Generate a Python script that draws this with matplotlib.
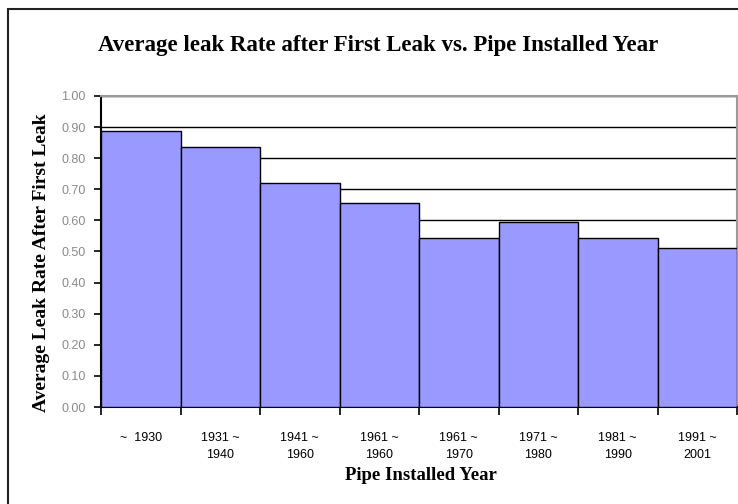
import matplotlib
matplotlib.use("Agg")
import matplotlib.pyplot as plt
from matplotlib.patches import Rectangle
from matplotlib.ticker import MultipleLocator, FixedLocator, NullFormatter
import numpy as np

periods = ["~  1930", "1931 ~\n1940", "1941 ~\n1960", "1961 ~\n1960",
           "1961 ~\n1970", "1971 ~\n1980", "1981 ~\n1990", "1991 ~\n2001"]
leak_rate = [0.887, 0.837, 0.720, 0.657, 0.542, 0.596, 0.542, 0.510]

W, H = 738, 504
fig = plt.figure(figsize=(W / 100, H / 100), dpi=100)
fig.patch.set_facecolor("white")

# outer chart border (runs off the right/bottom of the image)
fig.patches.append(Rectangle((8 / W, -0.2), 1.2, 1.2 - 9 / H, transform=fig.transFigure,
                             fill=False, edgecolor="#222222", linewidth=1.5))

ax = fig.add_axes([101 / W, 1 - 407 / H, 636 / W, 311 / H])

x = np.arange(len(leak_rate))
ax.bar(x, leak_rate, width=1.0, color="#9999ff", edgecolor="black", linewidth=1.0, zorder=3)

ax.set_xlim(-0.5, len(leak_rate) - 0.5)
ax.set_ylim(0, 1.0)

ax.yaxis.set_major_locator(MultipleLocator(0.1))
ax.set_yticklabels([f"{v:.2f}" for v in ax.get_yticks()])
ax.grid(axis="y", color="black", linewidth=1.0, zorder=0)
ax.set_axisbelow(True)

# ticks at bar boundaries, labels at bar centres
ax.xaxis.set_major_locator(FixedLocator(np.arange(-0.5, len(leak_rate), 1.0)))
ax.xaxis.set_major_formatter(NullFormatter())
ax.xaxis.set_minor_locator(FixedLocator(x))
ax.set_xticklabels(periods, minor=True, family="Liberation Sans", fontsize=9,
                   ha="center", linespacing=1.5)
ax.tick_params(axis="x", which="major", direction="out", length=6, width=1.2, color="black")
ax.tick_params(axis="x", which="minor", length=0, pad=18)
ax.tick_params(axis="y", direction="out", length=5, width=1.2, labelsize=9,
               labelcolor="#8a8a8a", pad=6)
for lab in ax.get_yticklabels():
    lab.set_family("Liberation Sans")

for side in ["top", "right"]:
    ax.spines[side].set_color("#9a9a9a")
    ax.spines[side].set_linewidth(1.5)
for side in ["left", "bottom"]:
    ax.spines[side].set_color("black")
    ax.spines[side].set_linewidth(1.5)

fig.text(378 / W, 1 - 45 / H, "Average leak Rate after First Leak vs. Pipe Installed Year",
         ha="center", va="center", family="Liberation Serif", fontweight="bold", fontsize=16.5)
fig.text(421 / W, 1 - 476 / H, "Pipe Installed Year", ha="center", va="center",
         family="Liberation Serif", fontweight="bold", fontsize=13.5)
fig.text(42 / W, 1 - 263 / H, "Average Leak Rate After First Leak", ha="center", va="center",
         rotation=90, family="Liberation Serif", fontweight="bold", fontsize=14)

fig.savefig("out.png", dpi=100)
